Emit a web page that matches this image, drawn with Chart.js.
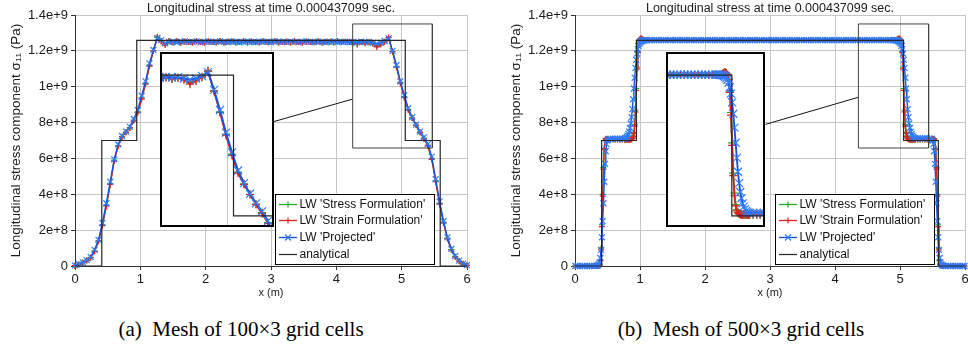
<!DOCTYPE html>
<html>
<head>
<meta charset="utf-8">
<script src="https://cdn.jsdelivr.net/npm/chart.js@4/dist/chart.umd.min.js"></script>
<style>
html, body { margin: 0; padding: 0; background: #fff; }
#wrap { position: relative; width: 968px; height: 345px; overflow: hidden; background: #fff; }
#wrap > canvas { position: absolute; display: block; }
.inset { position: absolute; border: 2px solid #000; background: #fff; }
.inset canvas { display: block; }
.cap { position: absolute; font-family: 'Liberation Serif', 'Times New Roman', serif; font-size: 21px; line-height: 21px; color: #000; white-space: nowrap; transform: translateX(-50%); }
</style>
</head>
<body>
<div id="wrap">
  <canvas id="mainL" width="500" height="300" style="left:0;top:0"></canvas>
  <canvas id="mainR" width="468" height="300" style="left:500px;top:0"></canvas>
  <div class="inset" style="left:160px;top:52px;width:110px;height:171px"><canvas id="insetL" width="110" height="171"></canvas></div>
  <div class="inset" style="left:666px;top:52px;width:95px;height:171px"><canvas id="insetR" width="95" height="171"></canvas></div>
  <div class="cap" style="left:241px;top:319px">(a)&nbsp; Mesh of 100×3 grid cells</div>
  <div class="cap" style="left:741px;top:319px">(b)&nbsp; Mesh of 500×3 grid cells</div>
</div>
<script>
// ---- texts ----
const titleText = 'Longitudinal stress at time 0.000437099 sec.';
const xTitle = 'x (m)';
const yTitle = 'Longitudinal stress component σ₁₁ (Pa)';
const xTickLabels = ['0', '1', '2', '3', '4', '5', '6'];
const yTickLabels = ['0', '2e+8', '4e+8', '6e+8', '8e+8', '1e+9', '1.2e+9', '1.4e+9'];
const seriesLabels = ["LW 'Stress Formulation'", "LW 'Strain Formulation'", "LW 'Projected'", 'analytical'];

// ---- (a) 100x3 mesh, stress in 1e8 Pa ----
const xL = [0, 0.06, 0.12, 0.18, 0.24, 0.3, 0.36, 0.42, 0.48, 0.54, 0.6, 0.66, 0.72, 0.78, 0.84, 0.9, 0.96, 1.02, 1.08, 1.14,
  1.2, 1.26, 1.32, 1.38, 1.44, 1.5, 1.56, 1.62, 1.68, 1.74, 1.8, 1.86, 1.92, 1.98, 2.04, 2.1, 2.16, 2.22, 2.28, 2.34,
  2.4, 2.46, 2.52, 2.58, 2.64, 2.7, 2.76, 2.82, 2.88, 2.94, 3.0, 3.06, 3.12, 3.18, 3.24, 3.3, 3.36, 3.42, 3.48, 3.54,
  3.6, 3.66, 3.72, 3.78, 3.84, 3.9, 3.96, 4.02, 4.08, 4.14, 4.2, 4.26, 4.32, 4.38, 4.44, 4.5, 4.56, 4.62, 4.68, 4.74,
  4.8, 4.86, 4.92, 4.98, 5.04, 5.1, 5.16, 5.22, 5.28, 5.34, 5.4, 5.46, 5.52, 5.58, 5.64, 5.7, 5.76, 5.82, 5.88, 5.94, 6.0];
const stressL = [0.02, 0.09, 0.19, 0.31, 0.48, 0.85, 1.42, 2.3, 3.4, 4.6, 5.9, 6.72, 7.22, 7.47, 7.72, 8.14, 8.6, 9.38, 10.2, 11.2,
  12.02, 12.75, 12.55, 12.36, 12.53,
  12.48, 12.53, 12.46, 12.51, 12.5, 12.47, 12.53, 12.5, 12.46, 12.52,
  12.5, 12.48, 12.54, 12.47, 12.51, 12.52, 12.48, 12.5, 12.53, 12.47,
  12.51, 12.5, 12.48, 12.52, 12.49, 12.51, 12.54, 12.47, 12.5, 12.51,
  12.48, 12.52, 12.5, 12.46, 12.51, 12.5, 12.48, 12.53, 12.47, 12.51,
  12.5, 12.48, 12.52, 12.49, 12.5, 12.5, 12.47, 12.39, 12.5, 12.45, 12.48,
  12.42, 12.28, 12.38, 12.52, 12.73, 11.97, 11.13, 10.24, 9.45, 8.74, 8.27, 7.86, 7.47, 7.13, 6.74, 6.0, 4.76, 3.5, 2.45, 1.55,
  0.92, 0.52, 0.28, 0.12, 0.04];
const strainL = [0.02, 0.08, 0.18, 0.3, 0.46, 0.82, 1.38, 2.25, 3.35, 4.55, 5.85, 6.7, 7.2, 7.45, 7.7, 8.1, 8.55, 9.3, 10.15, 11.15,
  12.0, 12.78, 12.52, 12.33, 12.55,
  12.47, 12.55, 12.45, 12.52, 12.5, 12.46, 12.54, 12.49, 12.45, 12.53,
  12.5, 12.47, 12.55, 12.46, 12.51, 12.53, 12.47, 12.5, 12.54, 12.46,
  12.52, 12.5, 12.47, 12.53, 12.49, 12.51, 12.55, 12.46, 12.5, 12.52,
  12.47, 12.53, 12.5, 12.45, 12.52, 12.5, 12.48, 12.54, 12.46, 12.51,
  12.5, 12.47, 12.53, 12.49, 12.51, 12.5, 12.46, 12.36, 12.5, 12.43, 12.48,
  12.4, 12.22, 12.35, 12.5, 12.75, 11.95, 11.1, 10.2, 9.4, 8.7, 8.25, 7.85, 7.45, 7.1, 6.7, 5.95, 4.7, 3.45, 2.4, 1.52,
  0.9, 0.5, 0.27, 0.11, 0.04];
const projL = [0.03, 0.1, 0.2, 0.33, 0.5, 0.9, 1.46, 2.4, 3.5, 4.7, 5.95, 6.78, 7.25, 7.5, 7.76, 8.2, 8.7, 9.5, 10.3, 11.3,
  12.05, 12.72, 12.6, 12.42, 12.5,
  12.52, 12.48, 12.51, 12.54, 12.49, 12.5, 12.53, 12.47, 12.51, 12.52,
  12.49, 12.5, 12.53, 12.5, 12.48, 12.52, 12.51, 12.48, 12.5, 12.53,
  12.5, 12.49, 12.51, 12.52, 12.5, 12.48, 12.51, 12.53, 12.5, 12.49,
  12.52, 12.5, 12.48, 12.51, 12.53, 12.5, 12.49, 12.52, 12.5, 12.47,
  12.51, 12.53, 12.49, 12.5, 12.52, 12.48, 12.5, 12.47, 12.51, 12.49, 12.5,
  12.45, 12.4, 12.45, 12.55, 12.7, 12.0, 11.2, 10.3, 9.52, 8.8, 8.3, 7.88, 7.5, 7.18, 6.8, 6.1, 4.85, 3.6, 2.5, 1.6,
  0.95, 0.55, 0.3, 0.13, 0.05];

// ---- (b) 500x3 mesh (dense near fronts), stress in 1e8 Pa ----
const xR = [0.006, 0.042, 0.078, 0.114, 0.15, 0.186, 0.222, 0.258, 0.294, 0.33,
  0.342, 0.354, 0.366, 0.378, 0.39, 0.402, 0.414, 0.426, 0.438, 0.45, 0.462, 0.474, 0.486, 0.498, 0.51,
  0.546, 0.582, 0.618, 0.654, 0.69, 0.726, 0.762,
  0.774, 0.786, 0.798, 0.81, 0.822, 0.834, 0.846, 0.858, 0.87, 0.882, 0.894, 0.906, 0.918, 0.93, 0.942, 0.954, 0.966, 0.978, 0.99, 1.002,
  1.014, 1.026, 1.038, 1.05, 1.062, 1.074, 1.086, 1.098, 1.11,
  1.146, 1.182, 1.218, 1.254, 1.29, 1.326, 1.362, 1.398, 1.434, 1.47,
  1.506, 1.542, 1.578, 1.614, 1.65, 1.686, 1.722, 1.758, 1.794, 1.83,
  1.866, 1.902, 1.938, 1.974, 2.01, 2.046, 2.082, 2.118, 2.154, 2.19,
  2.226, 2.262, 2.298, 2.334, 2.37, 2.406, 2.442, 2.478, 2.514, 2.55,
  2.586, 2.622, 2.658, 2.694, 2.73, 2.766, 2.802, 2.838, 2.874, 2.91,
  2.946, 2.982, 3.018, 3.054, 3.09, 3.126, 3.162, 3.198, 3.234, 3.27,
  3.306, 3.342, 3.378, 3.414, 3.45, 3.486, 3.522, 3.558, 3.594, 3.63,
  3.666, 3.702, 3.738, 3.774, 3.81, 3.846, 3.882, 3.918, 3.954, 3.99,
  4.026, 4.062, 4.098, 4.134, 4.17, 4.206, 4.242, 4.278, 4.314, 4.35,
  4.386, 4.422, 4.458, 4.494, 4.53, 4.566, 4.602, 4.638, 4.674, 4.71,
  4.746, 4.782, 4.818, 4.854,
  4.89, 4.902, 4.914, 4.926, 4.938, 4.95, 4.962, 4.974, 4.986, 4.998, 5.01, 5.022, 5.034, 5.046, 5.058, 5.07, 5.082, 5.094, 5.106, 5.118,
  5.13, 5.142, 5.154, 5.166, 5.178, 5.19, 5.202, 5.214, 5.226,
  5.238, 5.274, 5.31, 5.346, 5.382, 5.418, 5.454,
  5.49, 5.502, 5.514, 5.526, 5.538, 5.55, 5.562, 5.574, 5.586, 5.598, 5.61, 5.622, 5.634, 5.646, 5.658,
  5.67, 5.706, 5.742, 5.778, 5.814, 5.85, 5.886, 5.922, 5.958, 5.994];
const stressR = [0, 0, 0, 0, 0, 0, 0, 0, 0, 0,
  0, 0.01, 0.04, 0.12, 0.35, 1.0, 2.3, 4.0, 5.5, 6.55, 7.0, 7.08, 7.06, 7.05, 7.05,
  7.05, 7.05, 7.05, 7.05, 7.05, 7.05, 7.05,
  7.05, 7.05, 7.05, 7.05, 7.05, 7.05, 7.05, 7.06, 7.09, 7.14, 7.24, 7.45, 7.9, 8.7, 9.9, 11.1, 11.95, 12.42, 12.6, 12.65,
  12.68, 12.66, 12.63, 12.61, 12.6, 12.6, 12.6, 12.6, 12.6,
  12.6, 12.6, 12.6, 12.6, 12.6, 12.6, 12.6, 12.6, 12.6, 12.6,
  12.6, 12.6, 12.6, 12.6, 12.6, 12.6, 12.6, 12.6, 12.6, 12.6,
  12.6, 12.6, 12.6, 12.6, 12.6, 12.6, 12.6, 12.6, 12.6, 12.6,
  12.6, 12.6, 12.6, 12.6, 12.6, 12.6, 12.6, 12.6, 12.6, 12.6,
  12.6, 12.6, 12.6, 12.6, 12.6, 12.6, 12.6, 12.6, 12.6, 12.6,
  12.6, 12.6, 12.6, 12.6, 12.6, 12.6, 12.6, 12.6, 12.6, 12.6,
  12.6, 12.6, 12.6, 12.6, 12.6, 12.6, 12.6, 12.6, 12.6, 12.6,
  12.6, 12.6, 12.6, 12.6, 12.6, 12.6, 12.6, 12.6, 12.6, 12.6,
  12.6, 12.6, 12.6, 12.6, 12.6, 12.6, 12.6, 12.6, 12.6, 12.6,
  12.6, 12.6, 12.6, 12.6, 12.6, 12.6, 12.6, 12.6, 12.6, 12.6,
  12.6, 12.6, 12.6, 12.6,
  12.6, 12.6, 12.6, 12.6, 12.6, 12.61, 12.63, 12.66, 12.68, 12.65, 12.6, 12.42, 11.95, 11.1, 9.9, 8.7, 7.9, 7.45, 7.24, 7.14,
  7.09, 7.06, 7.05, 7.05, 7.05, 7.05, 7.05, 7.05, 7.05,
  7.05, 7.05, 7.05, 7.05, 7.05, 7.05, 7.05,
  7.05, 7.05, 7.06, 7.08, 7.0, 6.55, 5.5, 4.0, 2.3, 1.0, 0.35, 0.12, 0.04, 0.01, 0,
  0, 0, 0, 0, 0, 0, 0, 0, 0, 0];
const strainR = [0, 0, 0, 0, 0, 0, 0, 0, 0, 0,
  0, 0.01, 0.03, 0.1, 0.3, 0.9, 2.2, 3.9, 5.4, 6.5, 7.0, 7.1, 7.08, 7.05, 7.05,
  7.05, 7.05, 7.05, 7.05, 7.05, 7.05, 7.05,
  7.05, 7.05, 7.05, 7.05, 7.05, 7.05, 7.05, 7.06, 7.08, 7.12, 7.2, 7.4, 7.8, 8.6, 9.8, 11.0, 11.9, 12.4, 12.6, 12.66,
  12.7, 12.68, 12.64, 12.62, 12.6, 12.6, 12.6, 12.6, 12.6,
  12.6, 12.6, 12.6, 12.6, 12.6, 12.6, 12.6, 12.6, 12.6, 12.6,
  12.6, 12.6, 12.6, 12.6, 12.6, 12.6, 12.6, 12.6, 12.6, 12.6,
  12.6, 12.6, 12.6, 12.6, 12.6, 12.6, 12.6, 12.6, 12.6, 12.6,
  12.6, 12.6, 12.6, 12.6, 12.6, 12.6, 12.6, 12.6, 12.6, 12.6,
  12.6, 12.6, 12.6, 12.6, 12.6, 12.6, 12.6, 12.6, 12.6, 12.6,
  12.6, 12.6, 12.6, 12.6, 12.6, 12.6, 12.6, 12.6, 12.6, 12.6,
  12.6, 12.6, 12.6, 12.6, 12.6, 12.6, 12.6, 12.6, 12.6, 12.6,
  12.6, 12.6, 12.6, 12.6, 12.6, 12.6, 12.6, 12.6, 12.6, 12.6,
  12.6, 12.6, 12.6, 12.6, 12.6, 12.6, 12.6, 12.6, 12.6, 12.6,
  12.6, 12.6, 12.6, 12.6, 12.6, 12.6, 12.6, 12.6, 12.6, 12.6,
  12.6, 12.6, 12.6, 12.6,
  12.6, 12.6, 12.6, 12.6, 12.6, 12.62, 12.64, 12.68, 12.7, 12.66, 12.6, 12.4, 11.9, 11.0, 9.8, 8.6, 7.8, 7.4, 7.2, 7.12,
  7.08, 7.06, 7.05, 7.05, 7.05, 7.05, 7.05, 7.05, 7.05,
  7.05, 7.05, 7.05, 7.05, 7.05, 7.05, 7.05,
  7.05, 7.05, 7.08, 7.1, 7.0, 6.5, 5.4, 3.9, 2.2, 0.9, 0.3, 0.1, 0.03, 0.01, 0,
  0, 0, 0, 0, 0, 0, 0, 0, 0, 0];
const projR = [0, 0, 0, 0, 0, 0, 0, 0, 0, 0.01,
  0.02, 0.04, 0.1, 0.2, 0.45, 0.9, 1.6, 2.5, 3.5, 4.7, 5.7, 6.4, 6.8, 7.0, 7.08,
  7.1, 7.1, 7.1, 7.1, 7.1, 7.1, 7.1,
  7.12, 7.15, 7.2, 7.27, 7.37, 7.5, 7.7, 7.95, 8.3, 8.75, 9.3, 9.9, 10.5, 11.05, 11.5, 11.85, 12.1, 12.28, 12.4, 12.47,
  12.52, 12.55, 12.57, 12.58, 12.59, 12.6, 12.6, 12.6, 12.6,
  12.6, 12.6, 12.6, 12.6, 12.6, 12.6, 12.6, 12.6, 12.6, 12.6,
  12.6, 12.6, 12.6, 12.6, 12.6, 12.6, 12.6, 12.6, 12.6, 12.6,
  12.6, 12.6, 12.6, 12.6, 12.6, 12.6, 12.6, 12.6, 12.6, 12.6,
  12.6, 12.6, 12.6, 12.6, 12.6, 12.6, 12.6, 12.6, 12.6, 12.6,
  12.6, 12.6, 12.6, 12.6, 12.6, 12.6, 12.6, 12.6, 12.6, 12.6,
  12.6, 12.6, 12.6, 12.6, 12.6, 12.6, 12.6, 12.6, 12.6, 12.6,
  12.6, 12.6, 12.6, 12.6, 12.6, 12.6, 12.6, 12.6, 12.6, 12.6,
  12.6, 12.6, 12.6, 12.6, 12.6, 12.6, 12.6, 12.6, 12.6, 12.6,
  12.6, 12.6, 12.6, 12.6, 12.6, 12.6, 12.6, 12.6, 12.6, 12.6,
  12.6, 12.6, 12.6, 12.6, 12.6, 12.6, 12.6, 12.6, 12.6, 12.6,
  12.6, 12.6, 12.6, 12.6,
  12.6, 12.6, 12.6, 12.6, 12.59, 12.58, 12.57, 12.55, 12.52, 12.47, 12.4, 12.28, 12.1, 11.85, 11.5, 11.05, 10.5, 9.9, 9.3, 8.75,
  8.3, 7.95, 7.7, 7.5, 7.37, 7.27, 7.2, 7.15, 7.12,
  7.12, 7.12, 7.12, 7.12, 7.12, 7.12, 7.12,
  7.08, 7.0, 6.8, 6.4, 5.7, 4.7, 3.5, 2.5, 1.6, 0.9, 0.45, 0.2, 0.1, 0.04, 0.02,
  0.01, 0, 0, 0, 0, 0, 0, 0, 0, 0];

// ---- analytical solution (same for both meshes) ----
const anaX = [0, 0.41, 0.41, 0.945, 0.945, 5.055, 5.055, 5.59, 5.59, 6];
const anaY = [0, 0, 7.0, 7.0, 12.58, 12.58, 7.0, 7.0, 0, 0];

// ---- zoom window + connector (data coords) ----
const boxLX = [4.25, 5.47, 5.47, 4.25, 4.25];
const boxLY = [13.5, 13.5, 6.58, 6.58, 13.5];
const linkLX = [3.02, 4.25];
const linkLY = [8.03, 9.31];
const boxRX = [4.36, 5.44, 5.44, 4.36, 4.36];
const boxRY = [13.5, 13.5, 6.58, 6.58, 13.5];
const linkRX = [2.93, 4.36];
const linkRY = [7.9, 9.41];
const insetRangeL = [4.34, 5.44];
const insetRangeR = [4.40, 5.375];
const insetRangeY = [6.64, 13.42];

const SANS = "'Liberation Sans', Arial, Helvetica, sans-serif";
const GREEN = '#1faa1f', RED = '#e3201b', BLUE = '#1a52e0', BLUE_PT = '#2f7dff', BLACK = '#262626';
const GRID = '#c6c6c6';

Chart.defaults.font.family = SANS;
Chart.defaults.color = '#1a1a1a';

function pts(xs, ys) {
    return xs.map((x, i) => ({ x: x, y: ys[i] * 1e8 }));
}

function seriesSets(xs, stress, strain, proj, big) {
    const k = big ? 1.35 : 1;
    const clip = big ? undefined : false;
    return [
        { label: seriesLabels[0], data: pts(xs, stress), showLine: true, borderColor: GREEN, borderWidth: 1.3 * k,
          pointStyle: 'cross', pointRadius: 3 * k, pointBorderColor: GREEN, pointBorderWidth: 1.2, order: 3, clip: clip },
        { label: seriesLabels[1], data: pts(xs, strain), showLine: true, borderColor: RED, borderWidth: 1.3 * k,
          pointStyle: 'cross', pointRadius: 3 * k, pointBorderColor: RED, pointBorderWidth: 1.2, order: 2, clip: clip },
        { label: seriesLabels[2], data: pts(xs, proj), showLine: true, borderColor: BLUE, borderWidth: 1.4 * k,
          pointStyle: 'crossRot', pointRadius: 4.2 * k, pointBorderColor: BLUE_PT, pointBorderWidth: 1.2, order: 1, clip: clip },
        { label: seriesLabels[3], data: pts(anaX, anaY), showLine: true, borderColor: BLACK, borderWidth: 1.2,
          pointRadius: 0, order: 0, clip: clip }
    ];
}

// 제목 + 범례 (차트 영역 기준으로 그림)
const decor = {
    id: 'decor',
    afterDraw(chart) {
        const ctx = chart.ctx;
        const a = chart.chartArea;
        ctx.save();
        ctx.fillStyle = '#1a1a1a';
        ctx.font = '12.5px ' + SANS;
        ctx.textAlign = 'center';
        ctx.textBaseline = 'middle';
        ctx.fillText(titleText, (a.left + a.right) / 2, 8.5);

        const lx = Math.round(a.left + 200), ly = 194, lw = 159, lh = 70;
        ctx.fillStyle = '#fff';
        ctx.fillRect(lx, ly, lw, lh);
        ctx.strokeStyle = '#000';
        ctx.lineWidth = 1;
        ctx.strokeRect(lx + 0.5, ly + 0.5, lw, lh);

        ctx.font = '12px ' + SANS;
        ctx.textAlign = 'left';
        chart.data.datasets.slice(0, 4).forEach((ds, i) => {
            const y = Math.round(ly + 9.5 + i * 16.9) + 0.5;
            const cx = lx + 13;
            ctx.strokeStyle = ds.borderColor;
            ctx.lineWidth = ds.borderWidth;
            ctx.beginPath();
            ctx.moveTo(lx + 4, y);
            ctx.lineTo(lx + 22, y);
            ctx.stroke();
            if (ds.pointRadius) {
                const r = ds.pointRadius;
                ctx.strokeStyle = ds.pointBorderColor;
                ctx.lineWidth = 1.2;
                ctx.beginPath();
                if (ds.pointStyle === 'cross') {
                    ctx.moveTo(cx - r, y); ctx.lineTo(cx + r, y);
                    ctx.moveTo(cx, y - r); ctx.lineTo(cx, y + r);
                } else {
                    const d = r * 0.7071;
                    ctx.moveTo(cx - d, y - d); ctx.lineTo(cx + d, y + d);
                    ctx.moveTo(cx - d, y + d); ctx.lineTo(cx + d, y - d);
                }
                ctx.stroke();
            }
            ctx.fillStyle = '#111';
            ctx.fillText(ds.label, lx + 24.5, y);
        });
        ctx.restore();
    }
};

function mainChart(id, xs, stress, strain, proj, boxX, boxY, linkX, linkY, padRight) {
    const datasets = seriesSets(xs, stress, strain, proj, false);
    datasets.push({ label: 'zoom', data: pts(boxX, boxY), showLine: true, borderColor: '#444', borderWidth: 1, pointRadius: 0, order: 0, clip: false });
    datasets.push({ label: 'link', data: pts(linkX, linkY), showLine: true, borderColor: '#111', borderWidth: 1, pointRadius: 0, order: 0, clip: false });

    return new Chart(document.getElementById(id), {
        type: 'scatter',
        data: { datasets: datasets },
        options: {
            responsive: false,
            animation: false,
            events: [],
            layout: { autoPadding: false, padding: { top: 15, right: padRight, left: 0, bottom: 0 } },
            plugins: { legend: { display: false }, tooltip: { enabled: false }, title: { display: false } },
            scales: {
                x: {
                    type: 'linear', min: 0, max: 6,
                    ticks: { stepSize: 1, font: { size: 13 }, color: '#1a1a1a', padding: 2, maxRotation: 0,
                             callback: (v) => xTickLabels[Math.round(v)] },
                    grid: { color: GRID, lineWidth: 1, tickLength: 4, tickColor: '#333' },
                    border: { display: true, color: '#333', width: 1 },
                    title: { display: true, text: xTitle, font: { size: 11 }, padding: 0, color: '#1a1a1a' },
                    afterFit: (s) => { s.height = 34; s.paddingLeft = 0; s.paddingRight = 0; }
                },
                y: {
                    type: 'linear', min: 0, max: 1.4e9,
                    ticks: { stepSize: 2e8, font: { size: 13 }, color: '#1a1a1a', padding: 3,
                             callback: (v) => yTickLabels[Math.round(v / 2e8)] },
                    grid: { color: GRID, lineWidth: 1, tickLength: 4, tickColor: '#333' },
                    border: { display: true, color: '#333', width: 1 },
                    title: { display: true, text: yTitle, font: { size: 13.5 }, padding: { top: 8, bottom: 0 }, color: '#1a1a1a' },
                    afterFit: (s) => { s.width = 75; s.paddingTop = 0; s.paddingBottom = 0; }
                }
            }
        },
        plugins: [decor]
    });
}

function keepRound(step) {
    return (s) => { s.ticks = s.ticks.filter(t => Math.abs(t.value / step - Math.round(t.value / step)) < 1e-6); };
}

function insetChart(id, xs, stress, strain, proj, range) {
    return new Chart(document.getElementById(id), {
        type: 'scatter',
        data: { datasets: seriesSets(xs, stress, strain, proj, true) },
        options: {
            responsive: false,
            animation: false,
            events: [],
            layout: { autoPadding: false, padding: 0 },
            plugins: { legend: { display: false }, tooltip: { enabled: false } },
            scales: {
                x: {
                    type: 'linear', min: range[0], max: range[1],
                    ticks: { display: false, stepSize: 1 },
                    grid: { color: GRID, drawTicks: false },
                    border: { display: false },
                    afterBuildTicks: keepRound(1),
                    afterFit: (s) => { s.height = 0; s.paddingLeft = 0; s.paddingRight = 0; }
                },
                y: {
                    type: 'linear', min: insetRangeY[0] * 1e8, max: insetRangeY[1] * 1e8,
                    ticks: { display: false, stepSize: 2e8 },
                    grid: { color: GRID, drawTicks: false },
                    border: { display: false },
                    afterBuildTicks: keepRound(2e8),
                    afterFit: (s) => { s.width = 0; s.paddingTop = 0; s.paddingBottom = 0; }
                }
            }
        }
    });
}

mainChart('mainL', xL, stressL, strainL, projL, boxLX, boxLY, linkLX, linkLY, 33);
mainChart('mainR', xR, stressR, strainR, projR, boxRX, boxRY, linkRX, linkRY, 3);
insetChart('insetL', xL, stressL, strainL, projL, insetRangeL);
insetChart('insetR', xR, stressR, strainR, projR, insetRangeR);
</script>
</body>
</html>
